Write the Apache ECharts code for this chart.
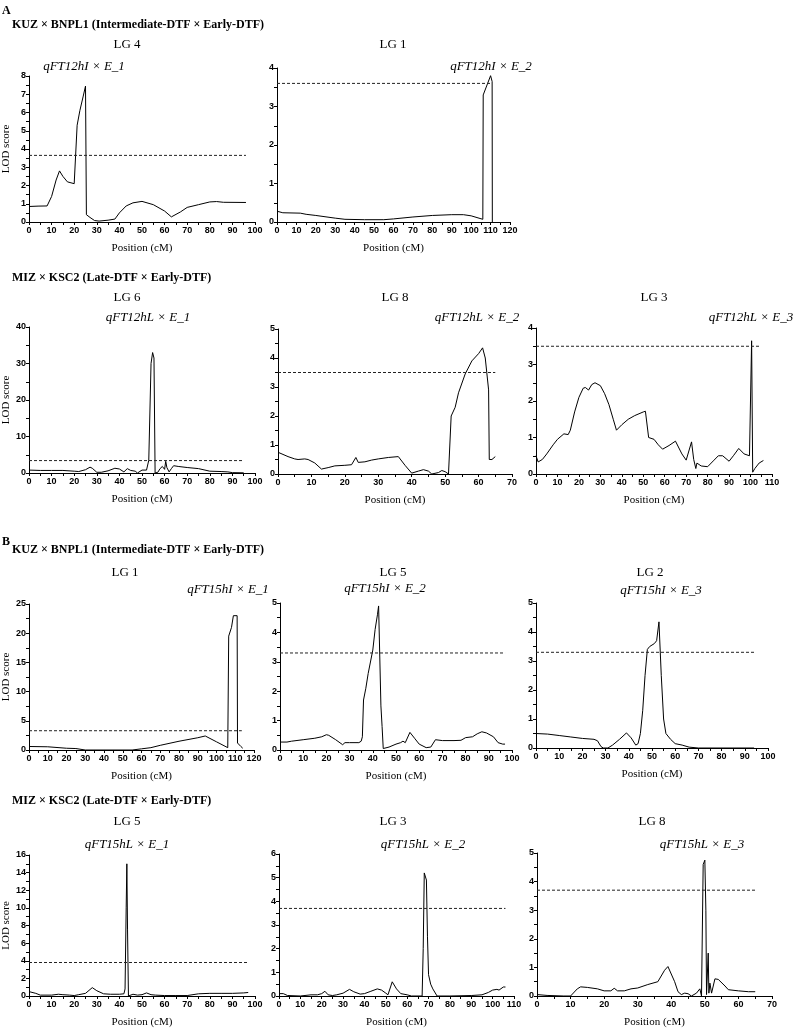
<!DOCTYPE html>
<html><head><meta charset="utf-8">
<script src="https://cdn.jsdelivr.net/npm/echarts@6/dist/echarts.min.js"></script>
<style>html,body{margin:0;padding:0;background:#fff}#c{width:793px;height:1029px}</style>
</head><body><div id="c"></div><script>
// ---------- DATA ----------
// Panel A, KUZ x BNPL1
const curveA_LG4 = [[0,0.85],[4,0.87],[8,0.88],[10,1.4],[12,2.3],[13.5,2.8],[15,2.5],[17,2.2],[20,2.1],[20.6,2.2],[21.3,5.3],[22.5,6.1],[24,6.9],[25,7.45],[25.4,0.4],[27,0.25],[29,0.08],[31,0.05],[35,0.1],[38,0.16],[40,0.5],[43,0.88],[46,1.05],[50,1.13],[55,0.95],[60,0.6],[63,0.28],[67,0.55],[70,0.8],[75,0.95],[80,1.1],[83,1.12],[86,1.08],[96,1.07]];
const curveA_LG1 = [[0,0.28],[3,0.24],[12,0.23],[15,0.2],[20,0.17],[30,0.1],[35,0.07],[45,0.06],[55,0.06],[60,0.08],[70,0.13],[80,0.17],[90,0.19],[96,0.19],[100,0.16],[106,0.07],[106.2,3.3],[110,3.8],[110.8,3.65],[110.9,0]];
// Panel A, MIZ x KSC2
const curveA_LG6 = [[0,0.8],[5,0.7],[10,0.7],[15,0.7],[20,0.5],[22,0.4],[25,0.9],[27,1.6],[28,1.3],[30,0.2],[32,0.2],[35,0.6],[38,1.3],[40,1.1],[42,0.3],[43.5,1.2],[45,0.7],[47,0.5],[48,0],[50,0.8],[52,0.8],[53,3.5],[54,30],[54.7,33],[55.3,31.5],[55.8,0],[57,0.2],[58,1.2],[59,1.8],[60,1.0],[60.5,3.2],[61,1.5],[62,0.3],[63,1.2],[64,2.0],[66,1.8],[70,1.5],[75,1.2],[80,0.5],[85,0.4],[88,0.3],[90,0.1],[95,0.05]];
const curveA_LG8 = [[0,0.75],[3,0.6],[5,0.52],[6,0.5],[8,0.52],[9,0.5],[11,0.38],[13,0.17],[15,0.22],[17,0.28],[20,0.3],[22,0.32],[23.3,0.57],[24,0.4],[26,0.42],[28,0.48],[30,0.52],[33,0.57],[36,0.6],[38,0.3],[40,0.03],[42,0.1],[43.5,0.15],[45,0.1],[46,0],[48,0.05],[49,0.12],[50,0.08],[51,0],[51.5,0],[51.8,2.0],[53,2.3],[54,2.8],[56,3.45],[58,3.9],[60,4.15],[61.2,4.35],[62,4.0],[63,2.9],[63.2,0.5],[64,0.5],[65,0.6]];
const curveA_LG3 = [[0,0.5],[1,0.33],[3,0.4],[5,0.55],[8,0.8],[10,0.95],[13,1.1],[15,1.08],[16,1.2],[18,1.7],[20,2.1],[22,2.35],[23,2.37],[24.5,2.3],[26,2.45],[27.5,2.5],[30,2.42],[32,2.2],[34,1.9],[36,1.5],[37.5,1.2],[40,1.35],[43,1.5],[46,1.6],[50,1.7],[51,1.72],[52.5,1.0],[55,0.95],[57,0.8],[59,0.68],[62,0.78],[65,0.9],[68,0.55],[70,0.38],[72.5,0.88],[73.5,0.4],[74.5,0.15],[75,0.3],[77,0.22],[80,0.2],[83,0.38],[85,0.5],[87,0.5],[90,0.35],[92,0.5],[94.5,0.7],[97,0.55],[99.5,0.5],[100.5,3.65],[101,0.05],[102,0.15],[104,0.3],[106,0.37]];
// Panel B, KUZ x BNPL1
const curveB_LG1 = [[0,0.6],[10,0.55],[20,0.3],[25,0.25],[30,0],[40,0],[55,0],[60,0.2],[65,0.4],[70,0.8],[80,1.5],[90,2.1],[94,2.4],[100,1.4],[106,0.4],[106.5,19.5],[108,21],[109,23],[110,23.3],[111,23],[111.2,1.2],[113,0.6],[114,0.3]];
const curveB_LG5 = [[0,0.27],[3,0.27],[5,0.3],[10,0.35],[15,0.4],[18,0.45],[20,0.52],[21,0.5],[24,0.35],[27,0.18],[28,0.25],[30,0.25],[34,0.25],[35,0.3],[35.5,0.45],[36,1.7],[37,2.1],[38,2.6],[40,3.4],[41,4.1],[42,4.6],[42.5,4.9],[43.5,1.5],[44,0.8],[44.5,0.05],[47,0.1],[50,0.2],[52,0.25],[53,0.3],[54,0.25],[56,0.6],[58,0.4],[60,0.2],[63,0.08],[65,0.1],[67,0.35],[70,0.32],[75,0.32],[78,0.33],[80,0.42],[83,0.45],[85,0.55],[87,0.62],[89,0.58],[92,0.45],[94,0.25],[96,0.2],[97,0.2]];
const curveB_LG2 = [[0,0.5],[5,0.48],[10,0.43],[15,0.38],[20,0.33],[25,0.3],[26.5,0.25],[28,0.05],[29,0],[31,0],[33,0.1],[36,0.3],[39,0.52],[41,0.35],[43,0.1],[44,0.15],[45,0.5],[46,1.3],[47,2.5],[48,3.4],[49,3.5],[51,3.6],[52,3.7],[53,4.35],[54,2.5],[55,1.0],[56,0.5],[58,0.3],[60,0.15],[63,0.1],[66,0.03],[70,0],[94,0]];
// Panel B, MIZ x KSC2
const curveB_LG5m = [[0,0.5],[3,0.3],[5,0.1],[10,0.1],[13,0.2],[15,0.15],[18,0.1],[20,0.05],[22,0.15],[25,0.3],[28,0.95],[30,0.6],[33,0.25],[36,0.2],[40,0.2],[42,0.25],[42.5,0.8],[43,10],[43.3,15],[43.6,7.5],[44,0],[46,0.2],[48,0.1],[50,0.15],[52,0.35],[54,0.15],[56,0.1],[60,0.05],[65,0.05],[70,0.05],[75,0.25],[80,0.3],[85,0.3],[90,0.3],[95,0.35],[97,0.4]];
const curveB_LG3m = [[0,0.1],[2,0.1],[4,0.02],[10,0],[15,0.05],[18,0.05],[20,0.1],[21.5,0.2],[23,0.05],[25,0.02],[27,0.05],[30,0.12],[33,0.28],[35,0.18],[38,0.08],[40,0.1],[43,0.2],[46,0.3],[48,0.25],[50,0.12],[51,0.05],[53,0.6],[55,0.3],[57,0.1],[60,0.05],[62,0],[67,0],[67.5,2.0],[68,5.2],[69,4.9],[69.5,2.5],[70,0.9],[71,0.5],[72,0.3],[74,0],[80,0],[90,0.02],[95,0.05],[98,0.15],[100,0.25],[102,0.28],[103,0.25],[105,0.38],[106,0.38]];
const curveB_LG8m = [[0,0.05],[3,0.02],[8,0],[10,0],[10.5,0.05],[12,0.25],[13,0.32],[15,0.3],[18,0.25],[20,0.18],[22,0.18],[23,0.27],[24,0.18],[26,0.18],[28,0.25],[30,0.28],[33,0.4],[36,0.5],[38,0.9],[39,1.03],[39.5,1.0],[41,0.5],[42,0.15],[43,0.05],[44,0.1],[45,0.08],[46,0],[47.5,0.1],[48.5,0.25],[49,0],[49.5,4.6],[50,4.75],[50.3,3.0],[50.5,0.05],[51,1.5],[51.2,0.1],[51.5,0.45],[52,0.1],[53,0.6],[54,0.58],[56,0.35],[57,0.22],[60,0.18],[63,0.15],[65,0.15]];

const curves = [curveA_LG4, curveA_LG1, curveA_LG6, curveA_LG8, curveA_LG3, curveB_LG1, curveB_LG5, curveB_LG2, curveB_LG5m, curveB_LG3m, curveB_LG8m];
const thresholds = [3.65, 3.6, 3.4, 3.5, 3.5, 3.3, 3.3, 3.3, 3.8, 3.7, 3.7];
const thresholdEnds = [96, 110.5, 95, 65, 104, 113.5, 97, 94, 97, 106, 65];
const lgNames = ['LG 4','LG 1','LG 6','LG 8','LG 3','LG 1','LG 5','LG 2','LG 5','LG 3','LG 8'];
const qtlNames = ['qFT12hI × E_1','qFT12hI × E_2','qFT12hL × E_1','qFT12hL × E_2','qFT12hL × E_3','qFT15hI × E_1','qFT15hI × E_2','qFT15hI × E_3','qFT15hL × E_1','qFT15hL × E_2','qFT15hL × E_3'];
const xMaxes = [100,120,100,70,110,120,100,100,100,110,70];
const yMaxes = [8,4,40,5,4,25,5,5,16,6,5];
const yIntervals = [1,1,10,1,1,5,1,1,2,1,1];
const headers = ['KUZ × BNPL1 (Intermediate-DTF × Early-DTF)','MIZ × KSC2 (Late-DTF × Early-DTF)','KUZ × BNPL1 (Intermediate-DTF × Early-DTF)','MIZ × KSC2 (Late-DTF × Early-DTF)'];
const sectionLabels = ['A','B'];

// ---------- LAYOUT ----------
// [left, top, right, bottom] of each plot area
const boxes = [
  [26,76,255,222],[277,68,510,222],
  [25,327,255,473],[278,329,512,474],[536,328,772,474],
  [24,604,254,750],[280,603,512,750],[536,603,768,748],
  [26,855,255,1000],[279,854,514,1000],[537,853,772,999]
];
const lgPos = [[127,45],[393,45],[127,298],[395,298],[654,298],[125,573],[393,573],[650,573],[127,822],[393,822],[652,822]];
const qtlPos = [[84,67],[491,67],[148,318],[477,318],[751,318],[228,590],[385,589],[661,591],[127,845],[423,845],[702,845]];
const headerPos = [[12,25],[12,278],[12,550],[12,801]];
const sectionPos = [[2,11],[2,542]];

const serif = '"Liberation Serif", "DejaVu Serif", serif';
const sans = '"Liberation Sans", Arial, sans-serif';

const grids = [], xAxes = [], yAxes = [], series = [], graphics = [];
boxes.forEach((b, i) => {
  grids.push({left: b[0], top: b[1], width: b[2]-b[0], height: b[3]-b[1]});
  const firstCol = b[0] < 100;
  xAxes.push({
    type:'value', gridIndex:i, min:0, max:xMaxes[i], interval:10,
    name:'Position (cM)', nameLocation:'middle', nameGap:21,
    nameTextStyle:{fontFamily:serif, fontSize:11, color:'#000'},
    axisLine:{onZero:false, lineStyle:{color:'#000', width:1}},
    axisTick:{show:true, length:3, lineStyle:{color:'#000'}},
    minorTick:{show:true, splitNumber:2, length:3, lineStyle:{color:'#000'}},
    splitLine:{show:false},
    axisLabel:{fontFamily:sans, fontSize:9, color:'#000', margin:4, fontWeight:'bold', showMinLabel:true, showMaxLabel:true, hideOverlap:false}
  });
  yAxes.push({
    type:'value', gridIndex:i, min:0, max:yMaxes[i], interval:yIntervals[i],
    name: firstCol ? 'LOD score' : '', nameLocation:'middle', nameGap:17, nameRotate:90,
    nameTextStyle:{fontFamily:serif, fontSize:11, color:'#000'},
    axisLine:{show:true, onZero:false, lineStyle:{color:'#000', width:1}},
    axisTick:{show:true, length:3, lineStyle:{color:'#000'}},
    minorTick:{show:true, splitNumber:2, length:3, lineStyle:{color:'#000'}},
    splitLine:{show:false},
    axisLabel:{fontFamily:sans, fontSize:9, color:'#000', margin:3, fontWeight:'bold', showMinLabel:true, showMaxLabel:true, hideOverlap:false}
  });
  series.push({
    type:'line', xAxisIndex:i, yAxisIndex:i, data:curves[i], symbol:'none', smooth:false,
    lineStyle:{color:'#000', width:1}, clip:false, silent:true, animation:false
  });
  series.push({
    type:'line', xAxisIndex:i, yAxisIndex:i, data:[[0,thresholds[i]],[thresholdEnds[i],thresholds[i]]], symbol:'none',
    lineStyle:{color:'#222', width:1, type:[3,2]}, silent:true, animation:false
  });
  graphics.push({type:'text', x:lgPos[i][0], y:lgPos[i][1], style:{text:lgNames[i], font:'13px '+serif, fill:'#000', textAlign:'center', textVerticalAlign:'middle'}});
  graphics.push({type:'text', x:qtlPos[i][0], y:qtlPos[i][1], style:{text:qtlNames[i], font:'italic 13px '+serif, fill:'#000', textAlign:'center', textVerticalAlign:'middle'}});
});
headers.forEach((h, i) => {
  graphics.push({type:'text', x:headerPos[i][0], y:headerPos[i][1], style:{text:h, font:'bold 12px '+serif, fill:'#000', textAlign:'left', textVerticalAlign:'middle'}});
});
sectionLabels.forEach((s, i) => {
  graphics.push({type:'text', x:sectionPos[i][0], y:sectionPos[i][1], style:{text:s, font:'bold 12px '+serif, fill:'#000', textAlign:'left', textVerticalAlign:'middle'}});
});

const chart = echarts.init(document.getElementById('c'), null, {renderer:'canvas'});
chart.setOption({
  animation:false, backgroundColor:'#fff',
  grid:grids, xAxis:xAxes, yAxis:yAxes, series:series, graphic:graphics
});
</script></body></html>
